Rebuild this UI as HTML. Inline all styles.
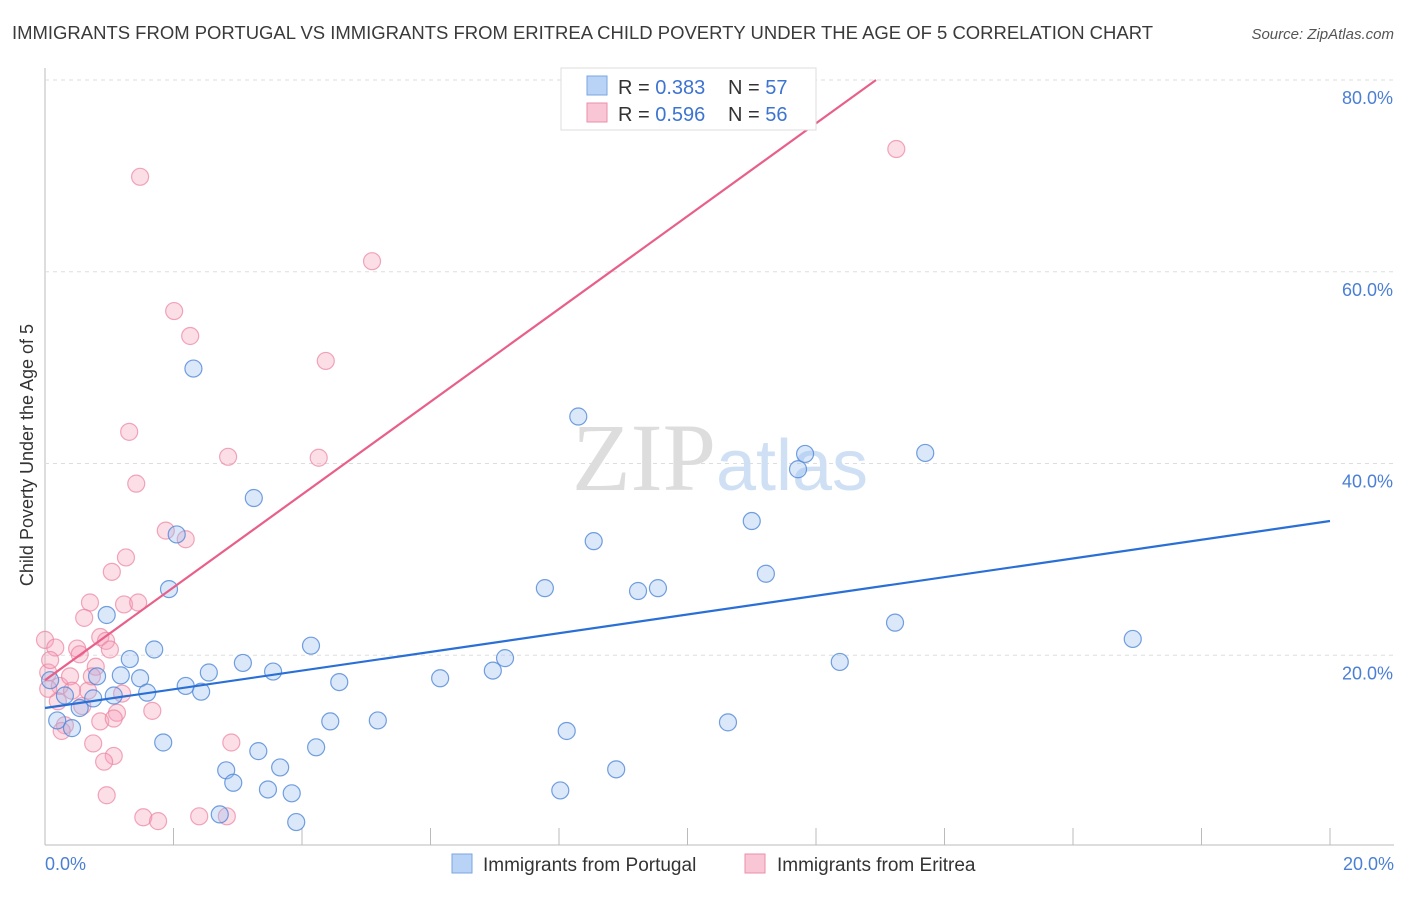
<!DOCTYPE html>
<html><head><meta charset="utf-8"><style>
body{margin:0;background:#fff;font-family:"Liberation Sans",sans-serif}
</style></head><body>
<svg width="1406" height="892" xmlns="http://www.w3.org/2000/svg" font-family="Liberation Sans, sans-serif">
<text x="12" y="39" font-size="18.5" fill="#3a3a3a" textLength="1141" lengthAdjust="spacingAndGlyphs">IMMIGRANTS FROM PORTUGAL VS IMMIGRANTS FROM ERITREA CHILD POVERTY UNDER THE AGE OF 5 CORRELATION CHART</text>
<text x="1394" y="39" font-size="15" fill="#555" text-anchor="end" font-style="italic">Source: ZipAtlas.com</text>
<g id="grid"></g>
<text x="720" y="490" font-size="96" text-anchor="middle" fill="#ddd" font-family="Liberation Serif, serif">ZIP<tspan fill="#cfe0f5" font-family="Liberation Sans, sans-serif" font-size="72">atlas</tspan></text>
<g id="pts"></g>
<g id="lines"></g>
<text transform="translate(33,455) rotate(-90)" font-size="18" fill="#333" text-anchor="middle">Child Poverty Under the Age of 5</text>
<text x="45" y="870" font-size="18" fill="#4a7fd4">0.0%</text>
<text x="1394" y="870" font-size="18" fill="#4a7fd4" text-anchor="end">20.0%</text>
<g>
<rect x="561" y="68" width="255" height="62" fill="#fff" stroke="#ddd"/>
<rect x="587" y="76" width="20" height="19" fill="#b8d3f5" stroke="#7aa6e0"/>
<rect x="587" y="103" width="20" height="19" fill="#f8c6d4" stroke="#eb8fa9"/>
<text x="618" y="94" font-size="20" fill="#333">R = <tspan fill="#3d74d1">0.383</tspan></text>
<text x="728" y="94" font-size="20" fill="#333">N = <tspan fill="#3d74d1">57</tspan></text>
<text x="618" y="121" font-size="20" fill="#333">R = <tspan fill="#3d74d1">0.596</tspan></text>
<text x="728" y="121" font-size="20" fill="#333">N = <tspan fill="#3d74d1">56</tspan></text>
</g>
<g>
<rect x="452" y="854" width="20" height="19" fill="#b8d3f5" stroke="#7aa6e0"/>
<text x="483" y="871" font-size="19" fill="#333">Immigrants from Portugal</text>
<rect x="745" y="854" width="20" height="19" fill="#f8c6d4" stroke="#eb8fa9"/>
<text x="777" y="871" font-size="19" fill="#333">Immigrants from Eritrea</text>
</g>
</svg>
<script>
const yTicks=[20,40,60,80];
const xTicks=[0,2,4,6,8,10,12,14,16,18,20];
const blueX=[2.31,8.30,3.25,11.72,11.83,13.70,11.00,8.54,2.05,7.78,9.23,9.54,11.22,1.93,0.96,13.23,16.93,4.14,1.70,1.32,3.08,12.37,0.81,6.97,7.16,2.55,3.55,1.18,1.48,6.15,2.19,2.43,1.59,4.58,1.07,0.75,0.31,0.54,4.44,5.18,10.63,0.19,0.42,1.84,8.12,4.22,3.32,2.82,3.66,8.89,2.93,3.47,3.84,8.02,3.91,2.72,0.08];
const blueY=[49.9,44.9,36.4,39.4,41.0,41.1,34.0,31.9,32.6,27.0,26.7,27.0,28.5,26.9,24.2,23.4,21.7,21.0,20.6,19.6,19.2,19.3,17.8,18.4,19.7,18.2,18.3,17.9,17.6,17.6,16.8,16.2,16.1,17.2,15.8,15.5,15.8,14.5,13.1,13.2,13.0,13.2,12.4,10.9,12.1,10.4,10.0,8.0,8.3,8.1,6.7,6.0,5.6,5.9,2.6,3.4,17.4];
const pinkX=[1.48,13.25,5.09,2.01,2.26,4.37,1.31,2.85,4.26,1.42,1.88,2.19,1.26,1.04,0.70,1.23,1.45,0.61,0.00,0.16,0.86,0.95,0.50,0.54,1.01,0.79,0.05,0.23,0.67,1.20,0.73,0.39,1.12,1.67,0.86,1.07,0.31,0.26,0.75,1.07,0.92,2.90,0.96,1.53,1.76,2.40,2.83,0.08,0.42,0.20,0.58,0.05];
const pinkY=[69.9,72.8,61.1,55.9,53.3,50.7,43.3,40.7,40.6,37.9,33.0,32.1,30.2,28.7,25.5,25.3,25.5,23.9,21.6,20.8,21.9,21.5,20.7,20.1,20.6,18.8,18.2,16.8,16.3,16.0,17.8,17.8,14.0,14.2,13.1,13.4,12.7,12.1,10.8,9.5,8.9,10.9,5.4,3.1,2.7,3.2,3.2,19.5,16.3,15.2,14.7,16.5];
const blueA=14.5,blueB=0.975;
const pinkA=17.4,pinkB=4.84;
const X0=45,X1=1330,Y0=847,Y80=80;
const sx=v=>X0+(X1-X0)*v/20;
const sy=v=>Y0-(Y0-Y80)*v/80;
const NS='http://www.w3.org/2000/svg';
function mk(t,a,p){const e=document.createElementNS(NS,t);for(const k in a)e.setAttribute(k,a[k]);p.appendChild(e);return e;}
const g=document.getElementById('grid');
mk('line',{x1:X0,y1:68,x2:X0,y2:845,stroke:'#bbb'},g);
mk('line',{x1:X0,y1:845,x2:1394,y2:845,stroke:'#bbb'},g);
yTicks.forEach(t=>{
const l=mk('line',{x1:X0,y1:sy(t),x2:1394,y2:sy(t),stroke:'#ddd','stroke-dasharray':'4,4'},g);


const tx=mk('text',{x:1393,y:sy(t)+24,'font-size':18,fill:'#4a7fd4','text-anchor':'end'},g);
tx.textContent=t.toFixed(1)+'%';


});
xTicks.forEach(t=>{
const l=mk('line',{x1:sx(t),y1:828,x2:sx(t),y2:845,stroke:'#bbb'},g);


});
const p=document.getElementById('pts');
pinkX.forEach((v,i)=>{
const c=mk('circle',{cx:sx(v),cy:sy(pinkY[i]),r:8.5,fill:'rgba(245,160,185,0.35)',stroke:'rgba(235,130,160,0.7)','stroke-width':1.2},p);


});
blueX.forEach((v,i)=>{
const c=mk('circle',{cx:sx(v),cy:sy(blueY[i]),r:8.5,fill:'rgba(150,190,240,0.35)',stroke:'rgba(80,135,215,0.8)','stroke-width':1.2},p);


});
const L=document.getElementById('lines');
const b=mk('line',{x1:sx(0),y1:sy(blueA),x2:sx(20),y2:sy(blueA+blueB*20),stroke:'#2a6fd6','stroke-width':2.2},L);


let xe=Math.min(20,(80-pinkA)/pinkB);
const pl=mk('line',{x1:sx(0),y1:sy(pinkA),x2:sx(xe),y2:sy(pinkA+pinkB*xe),stroke:'#e8608a','stroke-width':2.2},L);


</script>
</body></html>
